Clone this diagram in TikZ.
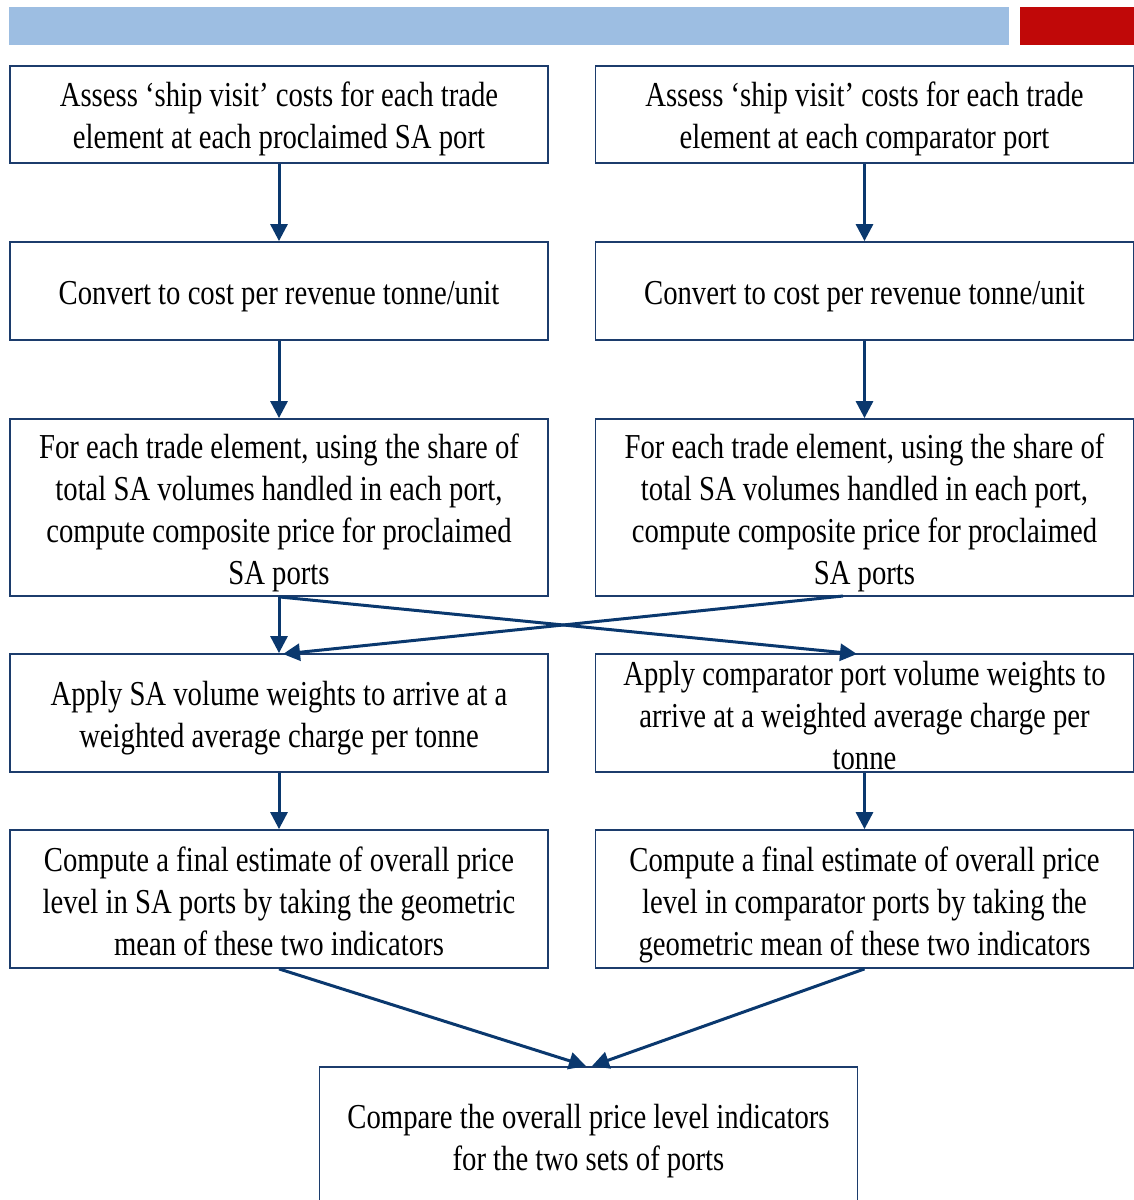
\documentclass[tikz,border=0pt]{standalone}
\usepackage{fontspec}
\setmainfont{Liberation Serif}[FakeStretch=0.82]
\usetikzlibrary{arrows.meta}
\definecolor{barblue}{RGB}{157,190,226}
\definecolor{barred}{RGB}{192,8,8}
\definecolor{boxc}{RGB}{28,60,108}
\definecolor{arrc}{RGB}{10,56,110}
\tikzset{
  box/.style={draw=boxc, line width=1.8pt, minimum width=538pt, inner sep=0pt, fill=white},
  txt/.style={align=center, inner sep=0pt, font=\fontsize{35}{42}\selectfont},
  arr/.style={draw=arrc, line width=3pt, -{Triangle[length=17pt,width=17pt]}}
}
\begin{document}
\begin{tikzpicture}[x=1pt,y=-1pt]
\useasboundingbox (0,0) rectangle (1134,1200);
\clip (0,0) rectangle (1134,1200);
% top bars
\fill[barblue] (9,7) rectangle (1009,45);
\fill[barred] (1020,7) rectangle (1134,45);
% boxes left
\node[box, minimum height=97pt]  (L1) at (279,114.5) {};
\node[box, minimum height=98pt]  (L2) at (279,291) {};
\node[box, minimum height=177pt] (L3) at (279,507.5) {};
\node[box, minimum height=118pt] (L4) at (279,713) {};
\node[box, minimum height=138pt] (L5) at (279,899) {};
% boxes right
\node[box, minimum height=97pt]  (R1) at (864.5,114.5) {};
\node[box, minimum height=98pt]  (R2) at (864.5,291) {};
\node[box, minimum height=177pt] (R3) at (864.5,507.5) {};
\node[box, minimum height=118pt] (R4) at (864.5,713) {};
\node[box, minimum height=138pt] (R5) at (864.5,899) {};
% bottom box
\node[box, minimum height=150pt, anchor=north] (B) at (588.5,1066) {};
% texts
\node[txt] (tL1) at (279,118.5) {Assess `ship visit' costs for each trade\\element at each proclaimed SA port};
\node[txt] (tR1) at (864.5,118.5) {Assess `ship visit' costs for each trade\\element at each comparator port};
\node[txt] (tL2) at (279,297) {Convert to cost per revenue tonne/unit};
\node[txt] (tR2) at (864.5,297) {Convert to cost per revenue tonne/unit};
\node[txt] (tL3) at (279,513) {For each trade element, using the share of\\total SA volumes handled in each port,\\compute composite price for proclaimed\\SA ports};
\node[txt] (tR3) at (864.5,513) {For each trade element, using the share of\\total SA volumes handled in each port,\\compute composite price for proclaimed\\SA ports};
\node[txt] (tL4) at (279,718) {Apply SA volume weights to arrive at a\\weighted average charge per tonne};
\node[txt] (tR4) at (864.5,716) {Apply comparator port volume weights to\\arrive at a weighted average charge per\\tonne};
\node[txt] (tL5) at (279,901) {Compute a final estimate of overall price\\level in SA ports by taking the geometric\\mean of these two indicators};
\node[txt] (tR5) at (864.5,905) {Compute a final estimate of overall price\\level in comparator ports by taking the\\geometric mean of these two indicators};
\node[txt] (tB) at (588.5,1141) {Compare the overall price level indicators\\for the two sets of ports};
% arrow end points
\coordinate (sR) at (843,596);
\coordinate (cR) at (857,654);
\coordinate (cL) at (283,654);
\coordinate (bL) at (586,1066);
\coordinate (bR) at (592,1066);
% arrows
\draw[arr] (L1.south) -- (L2.north);
\draw[arr] (L2.south) -- (L3.north);
\draw[arr] (R1.south) -- (R2.north);
\draw[arr] (R2.south) -- (R3.north);
\draw[arr] (L3.south) -- (L4.north);
\draw[arr] (L3.south) -- (cR);
\draw[arr] (sR) -- (cL);
\draw[arr] (L4.south) -- (L5.north);
\draw[arr] (R4.south) -- (R5.north);
\draw[arr] (L5.south) -- (bL);
\draw[arr] (R5.south) -- (bR);
\end{tikzpicture}
\end{document}
